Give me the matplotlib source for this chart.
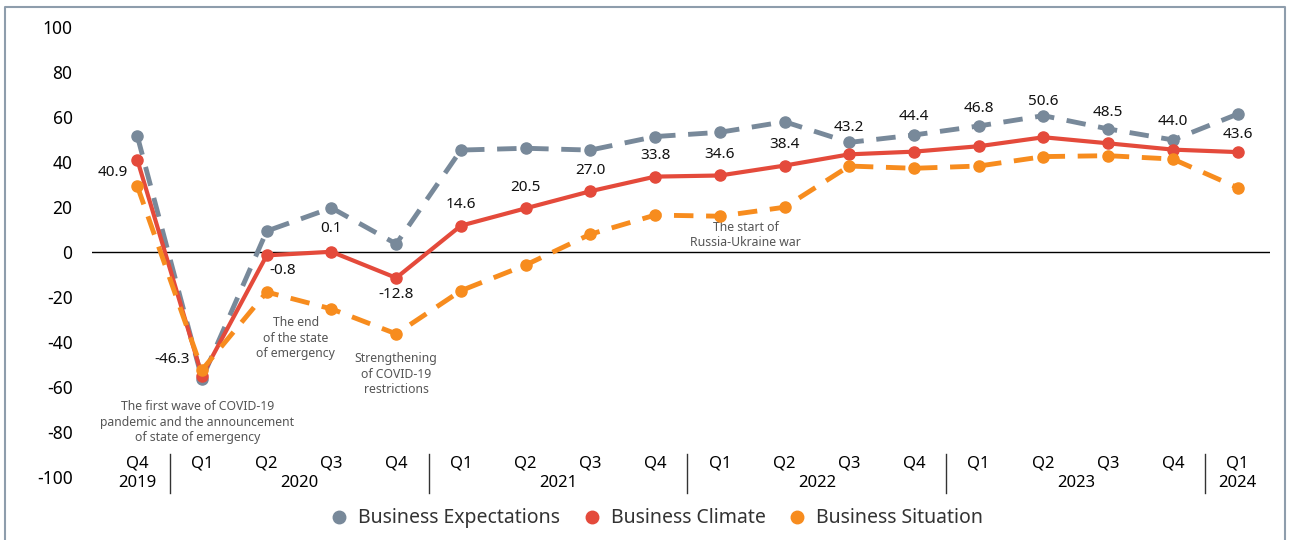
import matplotlib.pyplot as plt
from matplotlib.lines import Line2D

plt.rcParams['font.family'] = ['Noto Sans', 'DejaVu Sans']
plt.rcParams['axes.unicode_minus'] = False

quarters = ['Q4', 'Q1', 'Q2', 'Q3', 'Q4', 'Q1', 'Q2', 'Q3', 'Q4',
            'Q1', 'Q2', 'Q3', 'Q4', 'Q1', 'Q2', 'Q3', 'Q4', 'Q1']
years = ['2019', '2020', '2021', '2022', '2023', '2024']
year_pos = [0, 2.5, 6.5, 10.5, 14.5, 17]

expectations = [51.6, -56.4, 9.3, 19.6, 3.6, 45.3, 46.1, 45.3, 51.3,
                53.2, 57.9, 48.7, 52.0, 56.0, 60.6, 54.7, 49.8, 61.3]
climate = [41.0, -55.0, -1.5, 0.1, -11.5, 11.7, 19.4, 27.0, 33.5,
           34.0, 38.4, 43.4, 44.6, 47.0, 51.0, 48.3, 45.5, 44.4]
climate_labels = ['40.9', '-46.3', '-0.8', '0.1', '-12.8', '14.6', '20.5', '27.0', '33.8',
                  '34.6', '38.4', '43.2', '44.4', '46.8', '50.6', '48.5', '44.0', '43.6']
situation = [29.3, -52.4, -17.8, -25.3, -36.4, -17.2, -5.8, 7.9, 16.4,
             15.9, 19.9, 38.2, 37.2, 38.2, 42.4, 42.8, 41.3, 28.6]

events = [(0.93, -66, 'The first wave of COVID-19\npandemic and the announcement\nof state of emergency'),
          (2.45, -28.5, 'The end\nof the state\nof emergency'),
          (4.0, -44.5, 'Strengthening\nof COVID-19\nrestrictions'),
          (9.4, 1.2, 'The start of\nRussia-Ukraine war')]

grey = '#78899a'
red = '#e44a3b'
orange = '#f78c1e'

fig = plt.figure(figsize=(12.9, 5.4), dpi=100)
ax = fig.add_axes([0.0713, 0.1167, 0.9132, 0.8333])

x = list(range(len(quarters)))
ax.plot(x, expectations, color=grey, lw=3.5, ls=(0, (4, 2.6)), marker='o', ms=8, zorder=3)
ax.plot(x, climate, color=red, lw=3, marker='o', ms=8, zorder=4)
ax.plot(x, situation, color=orange, lw=3.5, ls=(0, (4, 2.6)), marker='o', ms=8, zorder=5)

ax.axhline(0, color='black', lw=1, zorder=2)

ax.set_xlim(-0.7, 17.5)
ax.set_ylim(-100, 100)
ax.set_yticks(range(-100, 101, 20))
ax.tick_params(axis='y', length=0, labelsize=12.5, pad=14)
ax.set_xticks([])
for s in ax.spines.values():
    s.set_visible(False)

# climate value labels (label placement tweaks)
offsets = {0: (-7, -9, 'right'), 1: (-9, 12, 'right'), 2: (2, -11, 'left'),
           4: (0, -12, 'center')}
lift = {3: 17, 11: 19, 12: 25, 13: 27, 14: 26, 15: 22.5, 16: 20, 17: 13}
for i, lab in enumerate(climate_labels):
    dx, dy, ha = offsets.get(i, (0, lift.get(i, 15), 'center'))
    ax.annotate(lab, (i, climate[i]), xytext=(dx, dy), textcoords='offset points',
                ha=ha, va='center', fontsize=11, color='#111111', zorder=6)

for ex, ey, txt in events:
    ax.text(ex, ey, txt, ha='center', va='bottom' if ey > 0 else 'top',
            fontsize=8.8, color='#555555', linespacing=1.25)

# category axis
for i, q in enumerate(quarters):
    ax.text(i, -94, q, ha='center', va='center', fontsize=12, clip_on=False)
for yp, yr in zip(year_pos, years):
    ax.text(yp, -102.5, yr, ha='center', va='center', fontsize=12, clip_on=False)
for sep in [0.5, 4.5, 8.5, 12.5, 16.5]:
    ax.plot([sep, sep], [-90, -107], color='#333333', lw=1, clip_on=False)

handles = [Line2D([], [], ls='none', marker='o', ms=9, color=c) for c in (grey, red, orange)]
fig.legend(handles, ['Business Expectations', 'Business Climate', 'Business Situation'],
           loc='center', bbox_to_anchor=(0.505, 0.04), ncol=3, frameon=False,
           fontsize=14, handletextpad=0.0, columnspacing=0.6, labelcolor='#333333')

# outer frame
fig.add_artist(Line2D([0.004, 0.004, 0.996, 0.996], [0.0, 0.987, 0.987, 0.0],
                      transform=fig.transFigure, color='#8e9dac', lw=1.5))

fig.savefig('out.png', dpi=100)
